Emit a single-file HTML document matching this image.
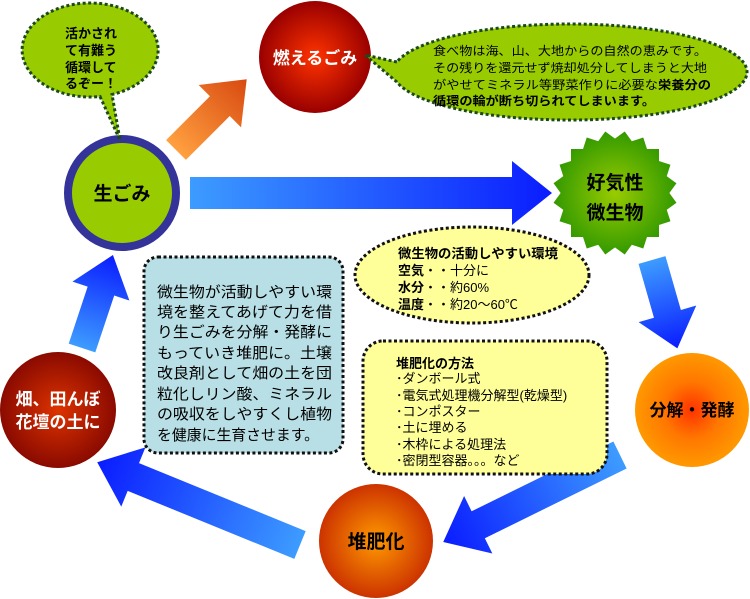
<!DOCTYPE html>
<html><head><meta charset="utf-8"><style>
html,body{margin:0;padding:0;background:#fff}
svg{display:block}
text{font-family:"Liberation Sans","Noto Sans CJK JP",sans-serif}
.b{font-weight:bold}
</style></head><body>
<svg width="750" height="599" viewBox="0 0 750 599" xmlns="http://www.w3.org/2000/svg">
<defs>
<linearGradient id="ab" x1="0" y1="0" x2="1" y2="0"><stop offset="0" stop-color="#3d9cff"/><stop offset="1" stop-color="#0a1cff"/></linearGradient>
<linearGradient id="ao" x1="0" y1="0" x2="1" y2="0"><stop offset="0" stop-color="#ffa040"/><stop offset="1" stop-color="#d84a10"/></linearGradient>
<radialGradient id="gRed"><stop offset="0" stop-color="#ff3300"/><stop offset="1" stop-color="#990000"/></radialGradient>
<radialGradient id="gRed2"><stop offset="0" stop-color="#dd3300"/><stop offset="1" stop-color="#8a0a00"/></radialGradient>
<radialGradient id="gOr"><stop offset="0" stop-color="#ff3300"/><stop offset="0.5" stop-color="#ff7700"/><stop offset="1" stop-color="#ff9900"/></radialGradient>
<radialGradient id="gOr2"><stop offset="0" stop-color="#ff9900"/><stop offset="1" stop-color="#cc3300"/></radialGradient>
<radialGradient id="gStar" cx="615" cy="193" r="62" gradientUnits="userSpaceOnUse"><stop offset="0" stop-color="#99cc00"/><stop offset="1" stop-color="#339900"/></radialGradient>
</defs>

<g transform="translate(176,150) rotate(-45)"><polygon points="0,-14 62,-14 62,-30 100,0 62,30 62,14 0,14" fill="url(#ao)"/></g>
<g transform="translate(190,193)"><polygon points="0,-16 322,-16 322,-32 362,0 322,32 322,16 0,16" fill="url(#ab)"/></g>
<g transform="translate(652,260) rotate(74)"><polygon points="0,-14 56,-14 56,-30 92,0 56,30 56,14 0,14" fill="url(#ab)"/></g>
<g transform="translate(620,455) rotate(153.8)"><polygon points="0,-15 158,-15 158,-32 197,0 158,32 158,15 0,15" fill="url(#ab)"/></g>
<g transform="translate(300,545) rotate(202.2)"><polygon points="0,-15 180,-15 180,-32 219,0 180,32 180,15 0,15" fill="url(#ab)"/></g>
<g transform="translate(82,348) rotate(-71.6)"><polygon points="0,-14 60,-14 60,-30 98,0 60,30 60,14 0,14" fill="url(#ab)"/></g>

<circle cx="122" cy="193" r="54" fill="#99cc00" stroke="#333399" stroke-width="8"/>
<text x="122" y="200" font-size="19" class="b" text-anchor="middle">生ごみ</text>

<path d="M100,96.5 L120,140 L112,94.5 A68,47 0 1 0 100,96.5 Z" fill="#99cc00" stroke="#1a4a1a" stroke-width="3" stroke-dasharray="3 2.5"/>
<g font-size="13" class="b">
<text x="65" y="38">活かされ</text>
<text x="65" y="55">て有難う</text>
<text x="65" y="72">循環して</text>
<text x="65" y="88">るぞー！</text>
</g>

<circle cx="315" cy="57" r="56" fill="url(#gRed)"/>
<text x="315" y="64" font-size="17" class="b" fill="#fff" text-anchor="middle">燃えるごみ</text>

<path d="M396.9,62 L365,55 L396.9,82 A177,48 0 1 0 396.9,62 Z" fill="#99cc00" stroke="#1a4a1a" stroke-width="3" stroke-dasharray="3 2.5"/>
<g font-size="12">
<text x="433" y="55" textLength="274" lengthAdjust="spacingAndGlyphs">食べ物は海、山、大地からの自然の恵みです。</text>
<text x="433" y="72" textLength="274" lengthAdjust="spacingAndGlyphs">その残りを還元せず焼却処分してしまうと大地</text>
<text x="433" y="89" textLength="278" lengthAdjust="spacingAndGlyphs">がやせてミネラル等野菜作りに必要な<tspan class="b">栄養分の</tspan></text>
<text x="433" y="105" class="b" textLength="222" lengthAdjust="spacingAndGlyphs">循環の輪が断ち切られてしまいます。</text>
</g>

<g fill="url(#gStar)">
<rect x="571" y="149" width="88" height="88"/>
<rect x="571" y="149" width="88" height="88" transform="rotate(18 615 193)"/>
<rect x="571" y="149" width="88" height="88" transform="rotate(36 615 193)"/>
<rect x="571" y="149" width="88" height="88" transform="rotate(54 615 193)"/>
<rect x="571" y="149" width="88" height="88" transform="rotate(72 615 193)"/>
</g>
<g font-size="19" class="b" text-anchor="middle">
<text x="615" y="189">好気性</text>
<text x="615" y="219">微生物</text>
</g>

<ellipse cx="472" cy="275" rx="117" ry="48" fill="#ffff99" stroke="#111" stroke-width="3" stroke-dasharray="3 2.5"/>
<g font-size="13">
<text x="398" y="258" class="b" textLength="160" lengthAdjust="spacingAndGlyphs">微生物の活動しやすい環境</text>
<text x="398" y="275"><tspan class="b">空気</tspan>・・十分に</text>
<text x="398" y="292"><tspan class="b">水分</tspan>・・約60%</text>
<text x="398" y="309"><tspan class="b">温度</tspan>・・約20～60℃</text>
</g>

<rect x="363" y="341" width="244" height="133" rx="20" fill="#ffff99" stroke="#111" stroke-width="3" stroke-dasharray="3 2.5"/>
<g font-size="13">
<text x="396" y="368" class="b">堆肥化の方法</text>
<text x="396" y="383">･ダンボール式</text>
<text x="396" y="400">･電気式処理機分解型(乾燥型)</text>
<text x="396" y="416">･コンポスター</text>
<text x="396" y="432">･土に埋める</text>
<text x="396" y="449">･木枠による処理法</text>
<text x="396" y="465">･密閉型容器。。。など</text>
</g>

<rect x="144" y="257" width="199" height="196" rx="14" fill="#b8dfe5" stroke="#111" stroke-width="3" stroke-dasharray="3 2.5"/>
<g font-size="15">
<text x="157" y="297" textLength="175" lengthAdjust="spacingAndGlyphs">微生物が活動しやすい環</text>
<text x="157" y="317" textLength="175" lengthAdjust="spacingAndGlyphs">境を整えてあげて力を借</text>
<text x="157" y="337" textLength="175" lengthAdjust="spacingAndGlyphs">り生ごみを分解・発酵に</text>
<text x="157" y="358" textLength="175" lengthAdjust="spacingAndGlyphs">もっていき堆肥に。土壌</text>
<text x="157" y="378" textLength="175" lengthAdjust="spacingAndGlyphs">改良剤として畑の土を団</text>
<text x="157" y="399" textLength="175" lengthAdjust="spacingAndGlyphs">粒化しリン酸、ミネラル</text>
<text x="157" y="419" textLength="175" lengthAdjust="spacingAndGlyphs">の吸収をしやすくし植物</text>
<text x="157" y="440" textLength="162" lengthAdjust="spacingAndGlyphs">を健康に生育させます。</text>
</g>

<circle cx="692" cy="410" r="57" fill="url(#gOr)"/>
<text x="692" y="416" font-size="17" class="b" text-anchor="middle">分解・発酵</text>

<circle cx="376" cy="541" r="57" fill="url(#gOr2)"/>
<text x="376" y="548" font-size="19" class="b" text-anchor="middle">堆肥化</text>

<circle cx="58" cy="410" r="58" fill="url(#gRed2)"/>
<g font-size="17" class="b" fill="#fff" text-anchor="middle">
<text x="58" y="405">畑、田んぼ</text>
<text x="58" y="428">花壇の土に</text>
</g>
</svg>
</body></html>
